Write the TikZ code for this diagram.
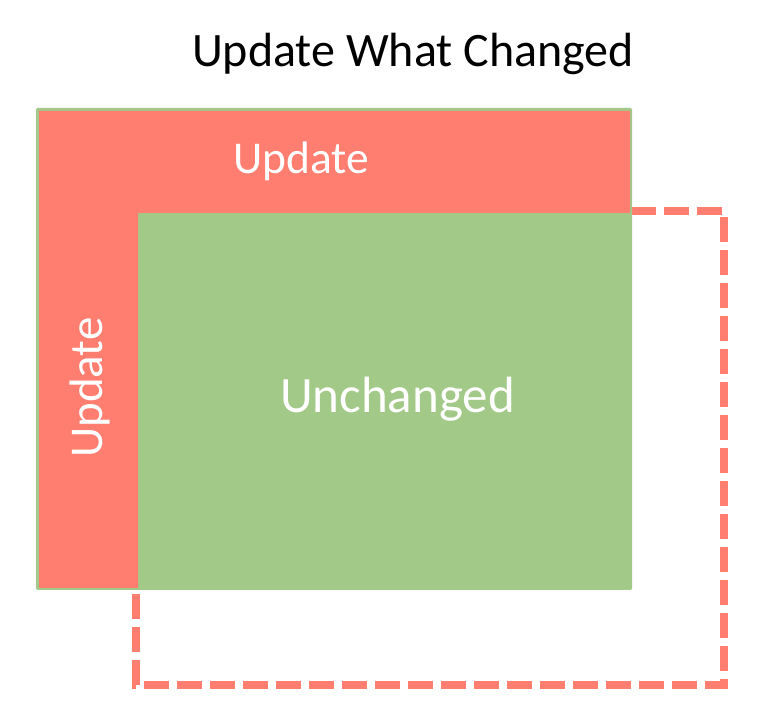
\documentclass[tikz,border=0pt]{standalone}
\usepackage{fontspec}
\setmainfont{Carlito}
\definecolor{updred}{RGB}{255,126,112}
\definecolor{unchgreen}{RGB}{162,201,135}
\tikzset{
  lbl/.style={text=white, inner sep=0pt, anchor=base},
  ttl/.style={text=black, inner sep=0pt, font=\fontsize{48}{54}\selectfont, anchor=base},
  dashbox/.style={draw=updred, line width=8.25pt, dash pattern=on 24.75pt off 8.25pt, miter limit=10},
}
\begin{document}
\begin{tikzpicture}[x=1pt,y=1pt]
\useasboundingbox (0,0) rectangle (774,728);
% dashed outline (behind)
\coordinate (d1) at (136,517);
\coordinate (d2) at (724,517);
\coordinate (d3) at (724,43);
\coordinate (d4) at (136,43);
\draw[dashbox] (d1) -- (d2) -- (d3) -- (d4) -- cycle;
% green area
\fill[unchgreen, rounded corners=1.5pt] (36,138) rectangle (632,620);
% red L-shaped update region
\fill[updred] (39,617) -- (630,617) -- (630,515) -- (138,515) -- (138,140) -- (39,140) -- cycle;
% texts
\node[ttl] (title) at (413,661) {Update What Changed};
\node[lbl, font=\fontsize{45.5}{50}\selectfont] (top) at (301,554) {Update};
\node[lbl, font=\fontsize{47}{50}\selectfont, rotate=90] (left) at (102,340.5) {Update};
\node[lbl, font=\fontsize{51}{56}\selectfont] (mid) at (397.5,315) {Unchanged};
\end{tikzpicture}
\end{document}
